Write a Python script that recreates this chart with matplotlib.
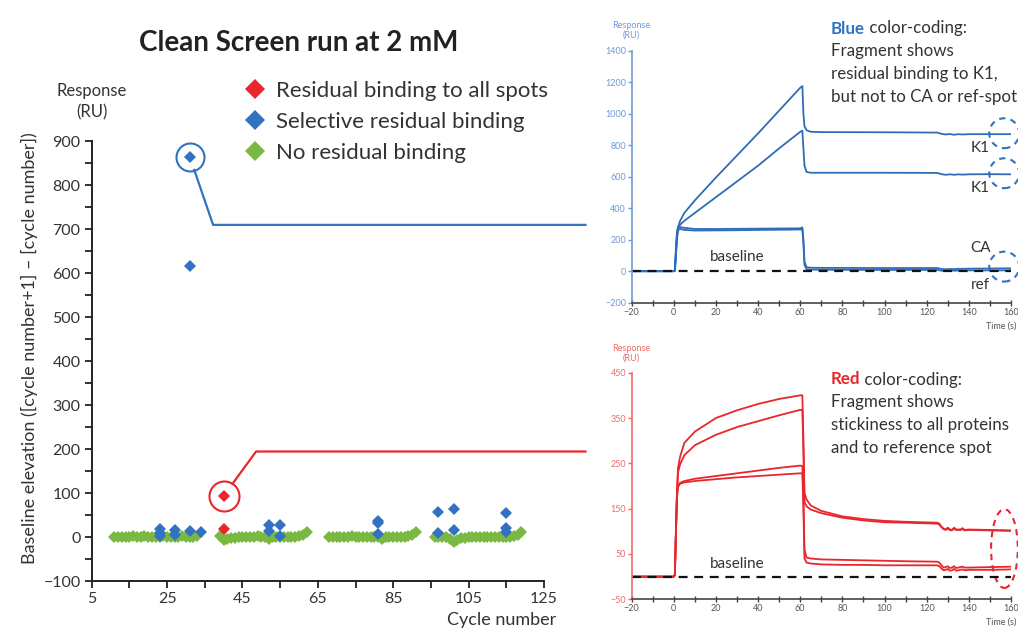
import numpy as np
import matplotlib.pyplot as plt
from matplotlib.lines import Line2D
from matplotlib.patches import Ellipse
from matplotlib.ticker import MultipleLocator, FixedLocator

plt.rcParams['font.family'] = ['Lato', 'DejaVu Sans']

# main chart: baseline elevation per cycle
green_cycles = list(range(11, 34)) + list(range(39, 63)) + list(range(68, 92)) + list(range(96, 120))
green_values = [1, 0, 1, 1, 0, 2, 1, 1, 3, 1, 0, 1, 1, 2, 0, 1, 1, 0, 2, 1, 1, 0, 2,
                3, -5, -3, -2, -1, 0, 0, 1, 0, 1, 2, 1, 0, -4, 0, 1, 0, 1, 0, 1, 0, 2, 5, 12,
                1, 0, 1, 1, 0, 1, 2, 1, 1, 0, 1, 0, 1, 0, -4, 0, 1, 0, 1, 1, 0, 2, 5, 11,
                1, 0, 1, 0, -4, -11, -5, -2, -1, 0, 1, 0, 1, 1, 0, 1, 0, 1, 0, 1, 1, 2, 5, 11]
blue_cycles = [31, 31, 23, 23, 23, 27, 27, 31, 34, 52, 52, 55, 55, 81, 81, 81, 97, 97, 101, 101, 115, 115, 115]
blue_values = [865, 617, 18, 9, 2, 17, 5, 15, 11, 27, 14, 27, 4, 36, 32, 7, 58, 10, 64, 17, 56, 22, 13]
red_cycles = [40, 40]
red_values = [94, 18]

legend_labels = ['Residual binding to all spots', 'Selective residual binding', 'No residual binding']
x_ticks = [5, 25, 45, 65, 85, 105, 125]

# sensorgrams, blue set (K1, K1, CA, ref)
t_blue = [-20, 0, 0.5, 1, 1.5, 2, 3, 5, 10, 20, 30, 40, 50, 60, 61, 61.5, 62, 63, 65, 70,
          100, 125, 127, 129, 131, 133, 135, 137, 140, 150, 160]
k1_high = [0, 0, 5, 120, 230, 280, 320, 370, 450, 595, 735, 875, 1020, 1165, 1175, 1000, 920, 895, 885, 883,
           882, 880, 872, 868, 871, 866, 870, 868, 870, 870, 870]
k1_low = [0, 0, 5, 110, 220, 275, 295, 320, 370, 470, 570, 670, 780, 885, 892, 780, 670, 630, 625, 625,
          625, 624, 616, 612, 615, 612, 615, 613, 615, 616, 615]
ca_blue = [0, 0, 5, 150, 250, 275, 280, 275, 268, 268, 269, 270, 271, 272, 278, 200, 60, 25, 22, 21,
           20, 20, 14, 12, 14, 13, 15, 15, 16, 17, 18]
ref_blue = [0, 0, 2, 100, 200, 260, 268, 262, 258, 259, 260, 262, 263, 265, 265, 180, 40, 12, 10, 9,
            8, 8, 3, 2, 4, 3, 4, 5, 5, 5, 5]

# sensorgrams, red set
t_red = [-20, 0, 0.5, 1, 1.5, 2, 3, 5, 10, 20, 30, 40, 50, 60, 61, 61.5, 62, 63, 65, 70,
         80, 90, 100, 110, 125, 126, 127, 128, 129, 130, 131, 132, 133, 134, 136, 137, 138, 140, 150, 160]
red_1 = [0, 0, 5, 100, 190, 240, 265, 295, 320, 350, 367, 381, 392, 400, 400, 300, 185, 170, 157, 145,
         133, 127, 123, 121, 119, 117, 110, 106, 104, 108, 104, 103, 108, 104, 104, 107, 103, 104, 103, 102]
red_2 = [0, 0, 5, 95, 180, 230, 248, 268, 290, 313, 330, 343, 356, 368, 368, 280, 165, 155, 148, 140,
         130, 124, 120, 119, 117, 115, 109, 105, 103, 106, 103, 102, 106, 103, 103, 105, 102, 103, 102, 101]
red_3 = [0, 0, 3, 100, 180, 200, 207, 211, 216, 222, 228, 234, 240, 245, 244, 180, 60, 42, 40, 38,
         37, 36, 35, 34, 33, 31, 25, 20, 21, 23, 19, 20, 23, 19, 21, 22, 20, 20, 21, 22]
red_4 = [0, 0, 3, 95, 175, 198, 205, 208, 211, 215, 219, 222, 225, 228, 228, 150, 40, 31, 29, 27,
         26, 26, 25, 25, 25, 23, 18, 14, 15, 17, 13, 14, 17, 13, 15, 16, 14, 15, 15, 16]

RED = '#e8262b'
BLUE = '#3272c0'
GREEN = '#7bb842'
TXT = '#333333'
W, H = 1018, 629

fig = plt.figure(figsize=(W / 100, H / 100), dpi=100)

# ---------------- main scatter
ax = fig.add_axes([0.0901, 0.0758, 0.4443, 0.6996])
ax.plot(green_cycles, green_values, 'D', color=GREEN, ms=6.5, mew=0)
ax.plot(blue_cycles, blue_values, 'D', color=BLUE, ms=6, mew=0)
ax.plot(red_cycles, red_values, 'D', color=RED, ms=6, mew=0)
ax.set_xlim(5, 125)
ax.set_ylim(-100, 900)
ax.xaxis.set_major_locator(FixedLocator(x_ticks))
ax.xaxis.set_minor_locator(MultipleLocator(10, offset=5))
ax.yaxis.set_major_locator(MultipleLocator(100))
ax.yaxis.set_minor_locator(MultipleLocator(50))
for s in ['top', 'right']:
    ax.spines[s].set_visible(False)
for s in ['left', 'bottom']:
    ax.spines[s].set_linewidth(1.4)
    ax.spines[s].set_color('#222222')
ax.tick_params(which='both', direction='out', length=5, width=1.3, color='#222222')
ax.tick_params(labelsize=11.5, labelcolor=TXT, pad=3)
ax.set_ylabel('Baseline elevation ([cycle number+1] \u2013 [cycle number])', fontsize=13, color=TXT)
ax.yaxis.set_label_coords(-0.118, 0.53)
fig.text(556 / W, 1 - 620 / H, 'Cycle number', ha='right', va='center', fontsize=13, color=TXT)
fig.text(92 / W, 1 - 102 / H, 'Response\n(RU)', ha='center', va='center', fontsize=12, color=TXT,
         linespacing=1.4)
fig.text(299 / W, 1 - 43 / H, 'Clean Screen run at 2 mM', ha='center', va='center', fontsize=20,
         fontweight='bold', color='#222222')


# circled points with leader lines
def callout(center, kink, color, r_px, x_end=136):
    ax.plot([center[0]], [center[1]], 'o', ms=2 * r_px / 1.389, mfc='none', mec=color, mew=1.5)
    c = ax.transData.transform(center)
    k = ax.transData.transform(kink)
    d = (k - c) / np.hypot(*(k - c))
    start = ax.transData.inverted().transform(c + d * r_px)
    ax.plot([start[0], kink[0], x_end], [start[1], kink[1], kink[1]], color=color, lw=1.6, clip_on=False)


callout((31, 865), (37.2, 710), BLUE, 14)
callout((40, 94), (48.6, 195), RED, 15)

handles = [Line2D([], [], marker='D', ls='none', color=c, ms=10, mew=0) for c in [RED, BLUE, GREEN]]
fig.legend(handles, legend_labels, loc='upper left', bbox_to_anchor=(242 / W, 1 - 81 / H), frameon=False,
           fontsize=16, handletextpad=0.35, labelspacing=0.5, handlelength=1.2, labelcolor=TXT,
           borderpad=0, borderaxespad=0)


# ---------------- sensorgrams
def sensorgram(rect, t, curves, color, axcolor, ylim, yticks, base_y):
    a = fig.add_axes(rect)
    for c in curves:
        a.plot(t, c, color=color, lw=1.3)
    a.axhline(0, color='#111111', lw=1.6, ls=(0, (4, 3)))
    a.set_xlim(-20, 160)
    a.set_ylim(*ylim)
    a.xaxis.set_major_locator(MultipleLocator(20))
    a.xaxis.set_minor_locator(MultipleLocator(10))
    a.yaxis.set_major_locator(FixedLocator(yticks))
    for s in ['top', 'right']:
        a.spines[s].set_visible(False)
    a.spines['left'].set_color(axcolor)
    a.spines['left'].set_linewidth(1.2)
    a.spines['bottom'].set_color('#444444')
    a.spines['bottom'].set_linewidth(1.2)
    a.tick_params(axis='x', which='both', direction='inout', length=5, width=1, color='#444444',
                  labelsize=6.5, labelcolor='#555555', pad=1)
    a.tick_params(axis='y', direction='out', length=3, width=1, color=axcolor,
                  labelsize=6.5, labelcolor=axcolor, pad=1)
    a.text(-20, 1.045, 'Response\n(RU)', transform=a.get_xaxis_transform(), ha='center', va='bottom',
           fontsize=6.5, color=axcolor, linespacing=1.1)
    a.text(29.9, base_y, 'baseline', ha='center', va='center', fontsize=11, color=TXT)
    return a


ax1 = sensorgram([0.6205, 0.5188, 0.3726, 0.4006], t_blue, [k1_high, k1_low, ca_blue, ref_blue],
                 '#2f6cb8', '#6d9ad8', (-200, 1400), list(range(-200, 1401, 200)), 88)
for y, lab in [(780, 'K1'), (526, 'K1'), (145, 'CA'), (-88, 'ref')]:
    ax1.text(145.4, y, lab, ha='center', va='center', fontsize=11, color=TXT)
for y in [876, 622, 29]:
    ax1.add_patch(Ellipse((156.8, y), 14.2, 190, fill=False, ec='#3272c0', lw=1.5, ls=(0, (3, 2.5)),
                          clip_on=False))
fig.text(1016 / W, 1 - 326 / H, 'Time (s)', ha='right', va='center', fontsize=6.5, color='#555555')

ax2 = sensorgram([0.6205, 0.0472, 0.3726, 0.3603], t_red, [red_1, red_2, red_3, red_4],
                 RED, '#f06a6a', (-50, 450), [-50, 50, 150, 250, 350, 450], 27)
ax2.add_patch(Ellipse((156.9, 62), 12.7, 174, fill=False, ec=RED, lw=1.5, ls=(0, (3, 2.5)), clip_on=False))
fig.text(1016 / W, 1 - 622 / H, 'Time (s)', ha='right', va='center', fontsize=6.5, color='#555555')

# explanatory text, one line at a time
renderer = fig.canvas.get_renderer()
x0 = 831 / W
fs = 12.2
for word, col, y_first, rest in [
        ('Blue', BLUE, 27, ['Fragment shows', 'residual binding to K1,', 'but not to CA or ref-spot']),
        ('Red', RED, 378, ['Fragment shows', 'stickiness to all proteins', 'and to reference spot'])]:
    t1 = fig.text(x0, 1 - y_first / H, word, fontsize=fs, fontweight='bold', color=col,
                  ha='left', va='center_baseline')
    bb = t1.get_window_extent(renderer)
    fig.text(bb.x1 / W, 1 - y_first / H, ' color-coding:', fontsize=fs, color=TXT,
             ha='left', va='center_baseline')
    for i, line in enumerate(rest):
        fig.text(x0, 1 - (y_first + 22.7 * (i + 1)) / H, line, fontsize=fs, color=TXT,
                 ha='left', va='center_baseline')

fig.savefig('out.png', dpi=100)
